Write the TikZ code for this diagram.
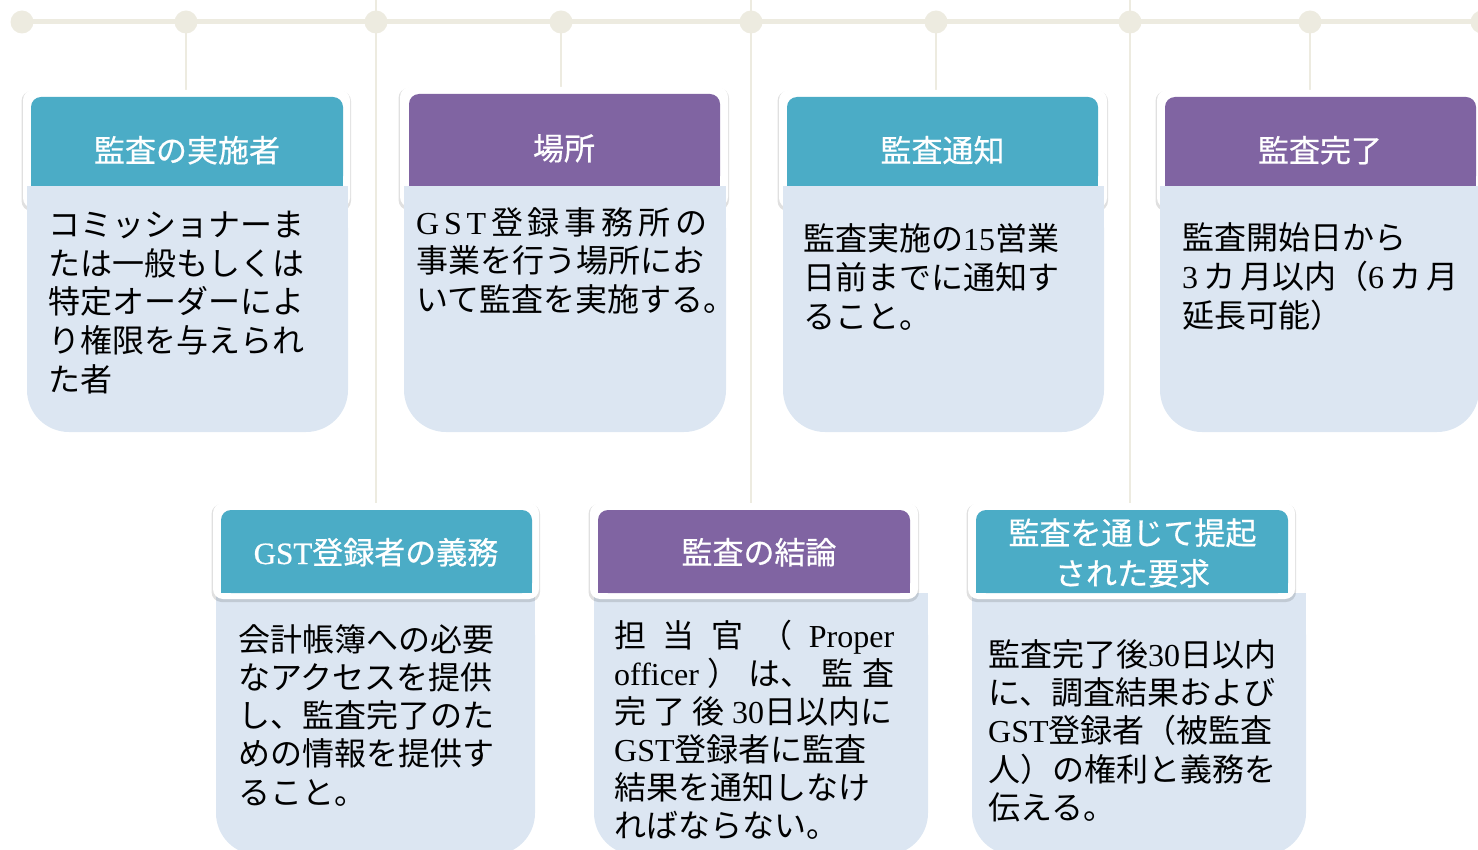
\documentclass[tikz,border=0pt]{standalone}
\usepackage{fontspec}
\setmainfont{Noto Sans CJK JP}
\newfontfamily\latf{Liberation Serif}
\newfontfamily\hdf{Noto Sans CJK JP}[FakeBold=0.6]
\newfontfamily\hdlatf{Liberation Serif}[FakeBold=0.6]
\newcommand{\lat}[1]{{\latf #1}}
\definecolor{tlc}{HTML}{EDEBE0}
\definecolor{hdteal}{HTML}{4BACC6}
\definecolor{hdpurp}{HTML}{8064A2}
\definecolor{bodyc}{HTML}{DCE6F2}
\newcommand{\cardframe}[4]{%
  \fill[black,opacity=0.12,rounded corners=10pt] (#1-1.5,#2+1) rectangle (#3+1,#4+3);
  \fill[white,rounded corners=10pt] (#1,#2) rectangle (#3,#4);}
\newcommand{\cardhead}[5]{%
  \fill[#1,rounded corners=10pt] (#2,#3) rectangle (#4,#5);
  \fill[#1] (#2,#5-15) rectangle (#4,#5);}
\newcommand{\cardbody}[4]{%
  \fill[bodyc,rounded corners=42pt] (#1,#2) rectangle (#3,#4);
  \fill[bodyc] (#1,#2) rectangle (#3,#2+60);}
\begin{document}
\begin{tikzpicture}[x=1pt,y=-1pt,
  dot/.style={circle,fill=tlc,inner sep=0pt,minimum size=23pt},
  tline/.style={draw=tlc,line width=2.6pt},
  hline/.style={draw=tlc,line width=5pt},
  headtext/.style={anchor=base,inner sep=0pt,text=white,font=\hdf\fontsize{31}{38}\selectfont},
  bodytext/.style={anchor=base west,inner sep=0pt,text=black,font=\fontsize{32}{38}\selectfont}]
\clip (0,0) rectangle (1478,850);
% timeline
\coordinate (hl0) at (22,22);
\coordinate (hl1) at (1500,22);
\draw[hline] (hl0) -- (hl1);
\coordinate (v1a) at (186,22);  \coordinate (v1b) at (186,90);
\coordinate (v2a) at (376,0);   \coordinate (v2b) at (376,503);
\coordinate (v3a) at (561,22);  \coordinate (v3b) at (561,88);
\coordinate (v4a) at (751,0);   \coordinate (v4b) at (751,503);
\coordinate (v5a) at (936,22);  \coordinate (v5b) at (936,90);
\coordinate (v6a) at (1130,0);  \coordinate (v6b) at (1130,503);
\coordinate (v7a) at (1310,22); \coordinate (v7b) at (1310,90);
\foreach \k in {1,...,7} \draw[tline] (v\k a) -- (v\k b);
\foreach \xx [count=\k] in {22,186,376,561,751,936,1130,1310,1482}
  \node[dot] (t\k) at (\xx,22) {};
% ---- top cards ----
% card 1
\cardframe{23}{90}{350}{208}
\cardbody{27}{186}{348}{432}
\cardhead{hdteal}{31}{97}{343}{186}
\node[headtext] (h1) at (187,162) {監査の実施者};
\foreach \t [count=\i from 0] in {{コミッショナーま},{たは一般もしくは},{特定オーダーによ},{り権限を与えられ},{た者}}
  \node[bodytext] (b1l\i) at (48,237+38.5*\i) {\t};
% card 2
\cardframe{400}{87}{728}{207}
\cardbody{404}{186}{726}{432}
\cardhead{hdpurp}{409}{94}{720}{186}
\node[headtext] (h2) at (564,160) {場所};
\foreach \t [count=\i from 0] in {{\makebox[291pt]{\lat{G}\hfill\lat{S}\hfill\lat{T}\hfill 登\hfill 録\hfill 事\hfill 務\hfill 所\hfill の}},{事業を行う場所にお},{いて監査を実施する。}}
  \node[bodytext] (b2l\i) at (416,234.5+38.5*\i) {\t};
% card 3
\cardframe{779}{90}{1107}{208}
\cardbody{783}{186}{1104}{432}
\cardhead{hdteal}{787}{97}{1098}{186}
\node[headtext] (h3) at (942.5,162) {監査通知};
\foreach \t [count=\i from 0] in {{監査実施の\lat{15}営業},{日前までに通知す},{ること。}}
  \node[bodytext] (b3l\i) at (803,251+38.5*\i) {\t};
% card 4
\cardframe{1157}{90}{1490}{208}
\cardbody{1160}{186}{1479}{432}
\cardhead{hdpurp}{1165}{97}{1476}{186}
\node[headtext] (h4) at (1320,162) {監査完了};
\foreach \t [count=\i from 0] in {{監査開始日から},{\makebox[276pt]{\lat{3}\hfill カ\hfill 月以内（\lat{6}\hfill カ\hfill 月}},{延長可能）}}
  \node[bodytext] (b4l\i) at (1182,250+38.5*\i) {\t};
% ---- bottom cards ----
% card 5
\cardbody{216}{593}{535}{855}
\cardframe{213}{503}{539}{599}
\cardhead{hdteal}{221}{510}{532}{593}
\node[headtext] (h5) at (376,564) {{\hdlatf GST}登録者の義務};
\foreach \t [count=\i from 0] in {{会計帳簿への必要},{なアクセスを提供},{し、監査完了のた},{めの情報を提供す},{ること。}}
  \node[bodytext] (b5l\i) at (238,651+38.3*\i) {\t};
% card 6
\cardbody{594}{593}{928}{855}
\cardframe{590}{503}{918}{599}
\cardhead{hdpurp}{598}{510}{910}{593}
\node[headtext] (h6) at (759,564) {監査の結論};
\foreach \t [count=\i from 0] in {{\makebox[280pt]{担\hfill 当\hfill 官\hfill （\hfill\lat{Proper}}},{\makebox[280pt]{\lat{officer}\hfill ）\hfill は、\hfill 監\hfill 査}},{\makebox[278pt]{完\hfill 了\hfill 後\hfill \lat{30}日以内に}},{\lat{GST}登録者に監査},{結果を通知しなけ},{ればならない。}}
  \node[bodytext] (b6l\i) at (614,647+38*\i) {\t};
% card 7
\cardbody{972}{593}{1306}{855}
\cardframe{968}{503}{1295}{599}
\cardhead{hdteal}{976}{510}{1288}{593}
\node[headtext] (h7a) at (1132.5,544.5) {監査を通じて提起};
\node[headtext] (h7b) at (1132.5,585) {された要求};
\foreach \t [count=\i from 0] in {{監査完了後\lat{30}日以内},{に、調査結果および},{\lat{GST}登録者（被監査},{人）の権利と義務を},{伝える。}}
  \node[bodytext] (b7l\i) at (988,666.5+38.2*\i) {\t};
\end{tikzpicture}
\end{document}
